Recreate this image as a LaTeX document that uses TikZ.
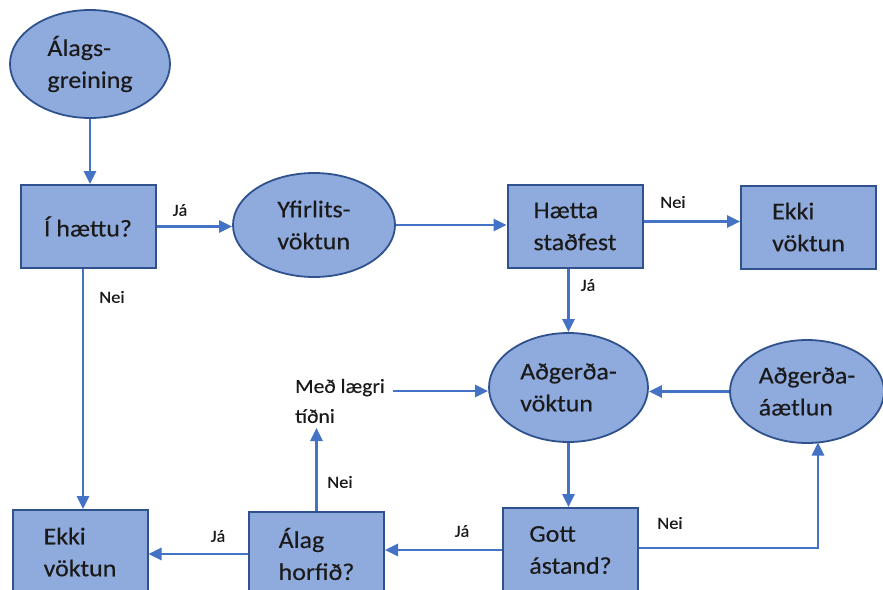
\documentclass[tikz,border=0pt]{standalone}
\usepackage{fontspec}
\setmainfont[FakeStretch=1.08,FakeBold=0.3]{Carlito}
\usetikzlibrary{arrows.meta,shapes.geometric,calc}
\definecolor{fillb}{HTML}{8FAADC}
\definecolor{edgeb}{HTML}{2F528F}
\definecolor{lineb}{HTML}{4472C4}
\definecolor{txt}{HTML}{1A1A1A}
\begin{document}
\begin{tikzpicture}[x=1pt,y=-1pt,
  every node/.style={text=txt},
  mainfont/.style={font=\fontsize{24}{32}\selectfont},
  lbl/.style={font=\fontsize{17}{20}\selectfont, inner sep=0pt},
  boxnode/.style={rectangle, draw=edgeb, fill=fillb, line width=2pt, minimum width=135pt, minimum height=83pt, align=left, mainfont, inner sep=0pt},
  ellnode/.style={ellipse, draw=edgeb, fill=fillb, line width=1.8pt, align=left, mainfont, inner sep=0pt},
  arr/.style={draw=lineb, line width=2.6pt, -{Triangle[length=13pt,width=12pt]}}]
\useasboundingbox (0,0) rectangle (883,589);

% nodes
\node[ellnode, minimum width=160pt, minimum height=108pt] (E1) at (90,64) {Álags-\\greining};
\node[boxnode, align=center] (B1) at (88,226.5) {Í hættu?};
\node[ellnode, minimum width=162pt, minimum height=104pt] (E2) at (314,225) {Yfirlits-\\vöktun};
\node[boxnode] (B2) at (575,226.5) {Hætta\\staðfest};
\node[boxnode] (B3) at (808.5,227) {Ekki\\vöktun};
\node[ellnode, minimum width=159pt, minimum height=109pt] (E3) at (568.5,387.5) {Aðgerða-\\vöktun};
\node[ellnode, minimum width=154pt, minimum height=103pt] (E4) at (807,391.5) {Aðgerða-\\áætlun};
\node[font=\fontsize{20}{30}\selectfont, align=left, inner sep=2pt] (M) at (340,401) {Með lægri\\tíðni};
\node[boxnode, minimum height=84pt] (B4) at (80,552) {Ekki\\vöktun};
\node[boxnode, minimum height=84pt] (B5) at (316.5,554) {Álag\\horfið?};
\node[boxnode, minimum height=84pt] (B6) at (570.5,550) {Gott\\ástand?};

\coordinate (Mout) at (393,391);
\coordinate (Min) at (316.5,428);
\coordinate (Ein) at (818,442.5);

% connectors
\draw[arr] (E1.south) -- (E1.south |- B1.north);
\draw[arr] (B1.east) -- (B1.east -| E2.west);
\draw[arr] (E2.east) -- (E2.east -| B2.west);
\draw[arr] ([yshift=5pt]B2.east) -- ([yshift=5pt]B2.east -| B3.west);
\draw[arr] (E3.north |- B2.south) -- (E3.north);
\draw[arr] (E4.west) -- (E4.west -| E3.east);
\draw[arr] (Mout) -- (Mout -| E3.west);
\draw[arr] (E3.south) -- (E3.south |- B6.north);
\draw[arr] (B6.west) -- (B6.west -| B5.east);
\draw[arr] ([yshift=2pt]B6.east) -| (Ein);
\draw[arr] (B5.north) -- (Min);
\draw[arr] (B5.west) -- (B5.west -| B4.east);
\draw[arr] ([xshift=3pt]B4.north |- B1.south) -- ([xshift=3pt]B4.north);

% labels
\node[lbl] (l1) at (180,210) {Já};
\node[lbl] (l2) at (673,202) {Nei};
\node[lbl] (l3) at (588,285) {Já};
\node[lbl] (l4) at (112,297) {Nei};
\node[lbl] (l5) at (462,531) {Já};
\node[lbl] (l6) at (670,523) {Nei};
\node[lbl] (l7) at (340,482) {Nei};
\node[lbl] (l8) at (218,536) {Já};
\end{tikzpicture}
\end{document}
